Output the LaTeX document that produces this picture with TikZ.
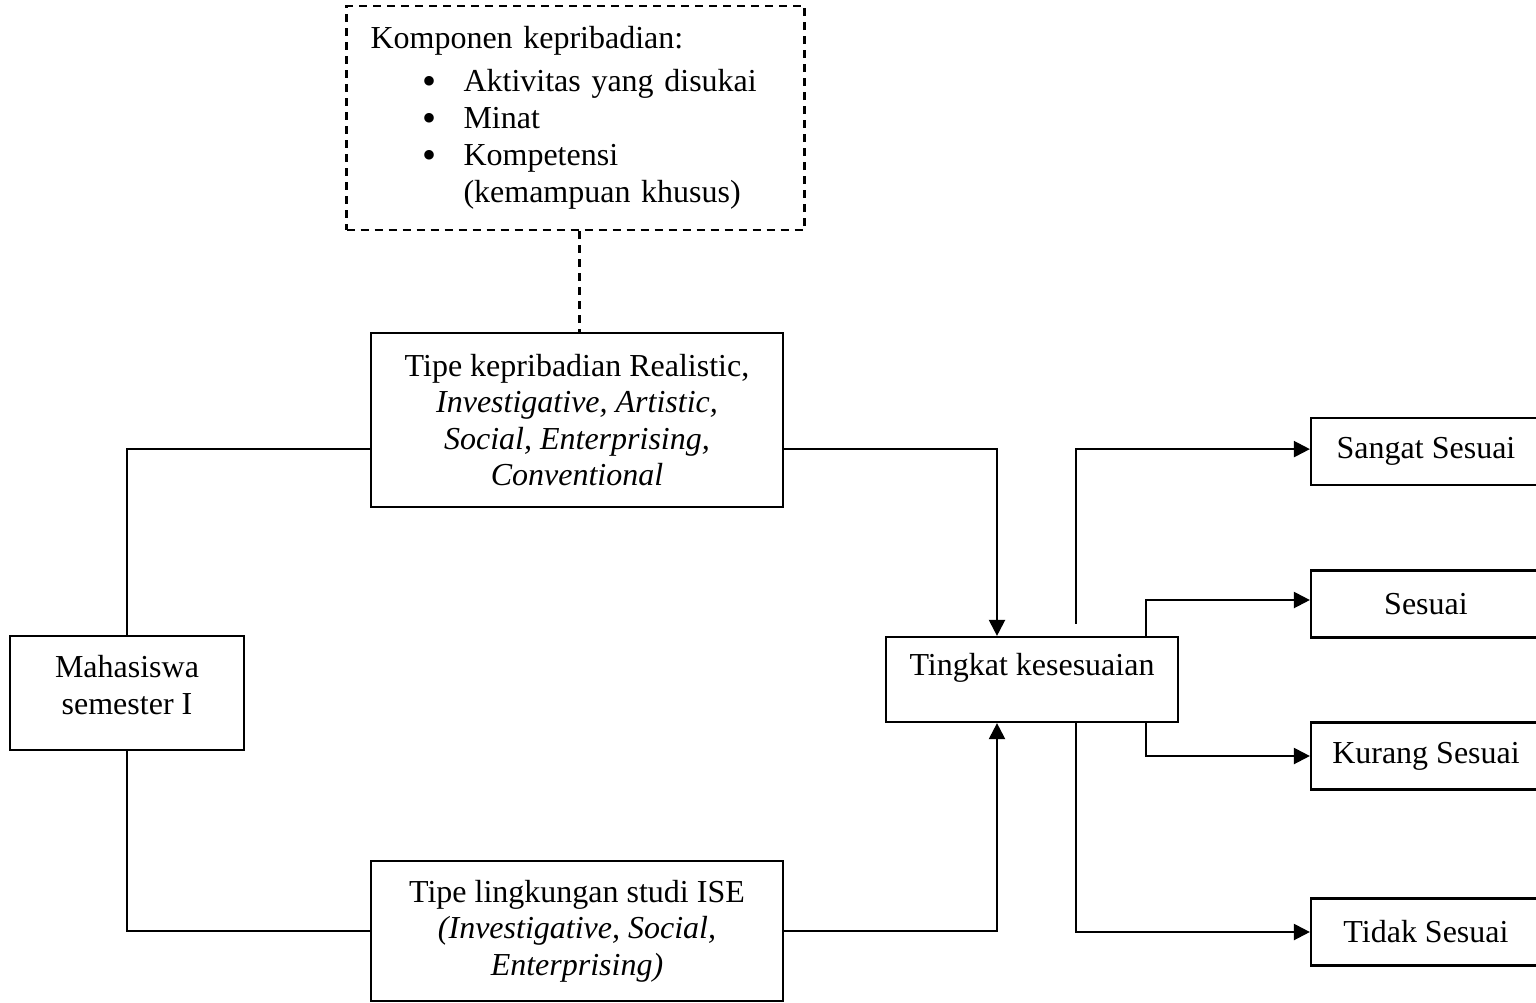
\documentclass[tikz,border=0pt]{standalone}
\usepackage{fontspec}
\setmainfont{Liberation Serif}
\usetikzlibrary{arrows.meta, positioning}

\newcommand{\butir}{\hspace*{26pt}\makebox[20.5pt][l]{\raisebox{-0.09em}{\scalebox{1.25}{\textbullet}}}}

\begin{document}
\begin{tikzpicture}[x=0.5pt,y=-0.5pt,>={Triangle[length=8pt,width=8pt]},line width=1.1pt,
  box/.style={draw,rectangle,align=center,inner sep=2pt,font=\fontsize{16}{18.3}\selectfont},
  hasil/.style={box,minimum width=115pt,minimum height=33.5pt},
  putus/.style={dash pattern=on 4pt off 3pt}]

\useasboundingbox (0,0) rectangle (1536,1002);

\node[box,putus,align=left,text width=205pt,inner xsep=12pt,minimum height=112pt,
      font=\fontsize{16}{18.5}\selectfont] (komp) at (575.5,118)
  {Komponen kepribadian:\\[3pt]
   \butir Aktivitas yang disukai\\
   \butir Minat\\
   \butir Kompetensi\\
   \hspace*{46.5pt}(kemampuan khusus)};

\node[box,minimum width=206pt,minimum height=87pt] (kep) at (577,420)
  {Tipe kepribadian Realistic,\\ \textit{Investigative, Artistic,}\\ \textit{Social, Enterprising,}\\ \textit{Conventional}};
\node[box,minimum width=117pt,minimum height=57pt,text depth=8pt] (maha) at (127,693) {Mahasiswa\\ semester I};
\node[box,minimum width=206pt,minimum height=70pt] (ling) at (577,931)
  {Tipe lingkungan studi ISE\\ \textit{(Investigative, Social,}\\ \textit{Enterprising)}};
\node[box,minimum width=146pt,minimum height=42.5pt,text height=10pt,text depth=14pt] (tingkat) at (1032,679.5) {Tingkat kesesuaian};

\node[hasil] (sangat) at (1426,451.5) {Sangat Sesuai};
\node[hasil] (sesuai) at (1426,604) {Sesuai};
\node[hasil] (kurang) at (1426,756) {Kurang Sesuai};
\node[hasil] (tidak)  at (1426,932) {Tidak Sesuai};

\coordinate (sgawal) at ([xshift=22pt,yshift=6pt]tingkat.north);

% garis masuk
\draw[putus] ([xshift=2pt]komp.south) -- ([xshift=2pt]komp.south |- kep.north);
\draw (maha.north) |- ([yshift=-14.5pt]kep.west);
\draw (maha.south) |- (ling.west);
\draw[->] ([yshift=-14.5pt]kep.east) -| ([xshift=-17.5pt]tingkat.north);
\draw[->] (ling.east) -| ([xshift=-17.5pt]tingkat.south);

% garis keluar
\draw[->] (sgawal) |- ([yshift=1.2pt]sangat.west);
\draw[->] ([xshift=57pt]tingkat.north) |- ([yshift=2pt]sesuai.west);
\draw[->] ([xshift=57pt]tingkat.south) |- (kurang.west);
\draw[->] ([xshift=22pt]tingkat.south) |- (tidak.west);

\end{tikzpicture}
\end{document}
